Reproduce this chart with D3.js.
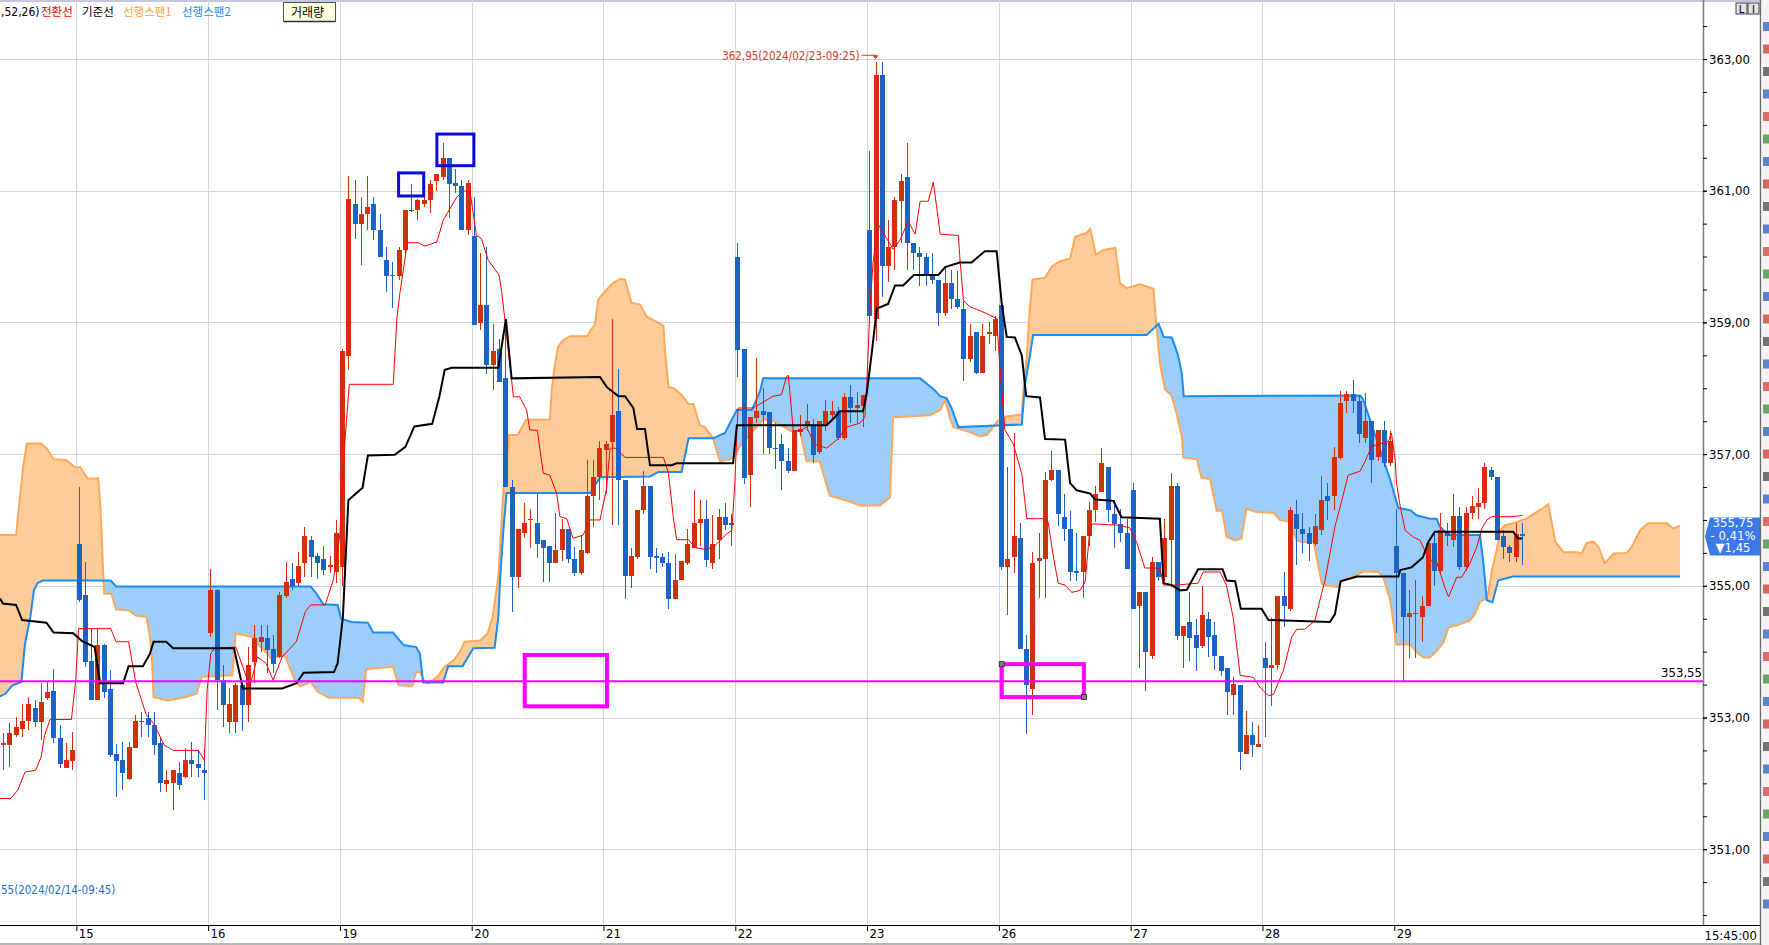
<!DOCTYPE html>
<html>
<head>
<meta charset="utf-8">
<script src="https://cdn.jsdelivr.net/npm/d3@7"></script>
<style>
  body { margin: 0; background: #fff; overflow: hidden; }
  svg { display: block; }
  .num { font-family: "Liberation Sans Narrow", "DejaVu Sans Condensed", "Arial Narrow", sans-serif; }
  .kr { font-family: "Noto Sans CJK KR", "Liberation Sans Narrow", sans-serif; }
</style>
</head>
<body>
<svg id="chart" width="1769" height="945"></svg>
<script>
// 20 minute bars, [open, high, low, close]
const candles = [
  // 14 (tail)
  [352.58,352.76,352.20,352.62],[352.58,352.91,352.25,352.76],[352.73,353.01,352.70,352.86],[352.83,353.21,352.70,352.95],
  [352.95,353.31,352.81,353.20],[353.15,353.26,352.86,352.93],[352.93,353.52,352.66,353.24],[353.29,353.54,353.26,353.39],
  [353.40,353.74,352.61,352.69],[352.69,352.88,352.23,352.29],[352.24,352.61,352.23,352.35],[352.34,352.78,352.20,352.50],
  // 15
  [355.64,356.50,354.75,354.78],[354.86,355.36,353.77,353.85],[353.86,354.35,353.26,353.27],[353.27,354.35,353.26,354.10],
  [354.10,354.12,353.29,353.39],[353.44,353.72,352.40,352.43],[352.45,352.60,351.80,352.34],[352.35,352.63,351.90,352.15],
  [352.07,352.63,352.05,352.55],[352.54,353.04,352.53,352.94],[352.93,353.09,352.71,352.95],[353.00,353.08,352.71,352.88],
  [352.89,353.08,352.43,352.58],[352.61,352.71,351.87,352.00],[351.99,352.20,351.87,352.05],[352.00,352.20,351.59,352.20],
  [352.16,352.32,351.90,351.97],[352.10,352.53,352.08,352.35],[352.35,352.63,352.10,352.29],[352.30,352.50,352.10,352.24],
  [352.20,352.50,351.74,352.15],
  // 16
  [354.29,355.25,354.23,354.94],[354.94,354.95,353.11,353.57],[353.57,353.80,352.86,353.19],[352.93,353.45,352.76,353.20],
  [352.93,353.52,352.76,353.50],[353.50,353.53,352.80,353.19],[353.19,354.07,352.93,353.80],[353.85,354.40,353.52,354.20],
  [354.15,354.40,354.00,354.22],[354.20,354.40,353.67,354.02],[354.04,354.25,353.67,353.82],[353.92,354.91,353.90,354.86],
  [354.84,355.36,354.81,355.06],[355.10,355.34,354.93,354.99],[355.04,355.51,355.00,355.30],[355.34,355.90,355.14,355.75],
  [355.70,355.75,355.13,355.43],[355.45,355.50,355.10,355.34],[355.40,355.60,355.17,355.24],[355.29,355.45,355.20,355.31],
  [355.21,356.00,355.05,355.80],
  // 19
  [355.29,358.60,355.00,358.56],[358.49,361.22,358.27,360.87],[360.80,361.16,360.27,360.50],[360.50,360.91,359.87,360.65],
  [360.65,361.22,360.40,360.76],[360.80,360.91,360.25,360.41],[360.41,360.65,359.99,359.99],[359.95,360.15,359.46,359.70],
  [359.72,359.92,359.22,359.70],[359.70,360.15,359.65,360.10],[360.10,360.71,360.02,360.71],[360.69,361.10,360.68,360.71],
  [360.71,360.87,360.56,360.86],[360.80,360.98,360.76,360.86],[360.86,361.16,360.66,361.10],[361.15,361.26,361.00,361.26],
  [361.21,361.72,361.16,361.50],[361.50,361.50,360.58,361.10],[361.12,361.33,360.96,361.07],[361.07,361.16,360.40,360.41],
  [360.41,361.16,360.32,361.12],
  // 20
  [360.31,360.90,358.96,358.96],[358.99,360.05,358.88,359.26],[359.26,360.14,358.22,358.35],[358.35,358.98,357.97,358.57],
  [358.60,358.75,358.10,358.10],[358.15,359.03,356.50,356.50],[356.50,356.60,354.60,355.14],[355.14,355.86,354.96,355.86],
  [355.80,356.25,355.72,355.95],[356.00,356.17,355.57,356.02],[355.95,356.39,355.42,355.63],[355.70,355.70,355.06,355.58],
  [355.60,355.60,355.06,355.35],[355.35,356.10,355.34,355.55],[355.55,356.02,355.37,355.86],[355.86,355.86,355.35,355.40],
  [355.40,355.59,355.15,355.20],[355.20,355.77,355.16,355.55],[355.50,356.91,355.49,356.36],[356.36,356.91,355.90,356.65],
  [356.65,357.20,356.30,357.10],
  // 21
  [357.06,357.20,356.40,357.15],[357.19,359.05,355.93,357.60],[357.65,358.29,355.93,356.60],[356.60,356.60,354.80,355.15],
  [355.15,355.58,354.97,355.45],[355.44,356.15,355.41,356.15],[356.15,356.74,356.09,356.51],[356.51,356.51,355.26,355.44],
  [355.45,355.58,355.20,355.42],[355.44,355.50,355.29,355.35],[355.35,355.52,354.65,354.80],[354.80,355.49,354.80,355.09],
  [355.09,355.38,355.09,355.38],[355.35,355.87,355.32,355.64],[355.58,356.45,355.58,355.95],[355.95,356.31,355.60,356.02],
  [356.02,356.31,355.29,355.39],[355.35,356.08,355.26,355.64],[355.70,356.16,355.41,356.05],[356.05,356.25,355.84,355.93],
  [355.96,356.09,355.61,355.93],
  // 22
  [359.99,360.21,358.17,358.58],[358.60,358.60,356.55,356.63],[356.69,357.56,356.20,357.56],[357.55,358.46,357.47,357.66],
  [357.66,358.00,357.00,357.60],[357.64,357.64,357.00,357.09],[357.10,357.47,356.77,357.07],[357.15,357.30,356.45,356.89],
  [356.89,357.09,356.71,356.74],[356.74,357.36,356.74,357.36],[357.34,357.60,357.27,357.38],[357.44,357.76,357.35,357.50],
  [357.44,357.53,356.86,356.98],[357.03,357.50,357.00,357.50],[357.44,357.82,357.35,357.66],[357.60,357.80,357.55,357.66],
  [357.66,357.72,357.21,357.24],[357.24,357.93,357.21,357.86],[357.86,358.05,357.47,357.70],[357.70,357.94,357.47,357.75],
  [357.73,357.90,357.41,357.90],
  // 23
  [360.41,361.61,359.05,359.09],[359.05,362.95,358.72,362.75],[362.75,362.95,359.38,359.85],[359.85,360.56,359.62,360.15],
  [360.15,360.90,359.80,360.86],[360.85,361.25,360.20,361.15],[361.21,361.72,359.80,360.20],[360.21,360.21,359.80,360.05],
  [360.05,360.14,359.56,359.99],[359.99,360.05,359.56,359.72],[359.72,360.05,359.59,359.65],[359.65,359.65,358.95,359.14],
  [359.14,359.82,359.10,359.60],[359.60,359.79,359.20,359.35],[359.36,359.78,359.20,359.24],[359.20,359.32,358.11,358.44],
  [358.44,358.98,358.40,358.79],[358.86,358.86,358.21,358.23],[358.23,358.98,358.23,358.80],[358.83,359.00,358.67,358.86],
  [358.79,359.10,358.57,359.05],
  // 26
  [359.26,359.26,355.24,355.29],[355.29,356.81,354.56,355.41],[355.43,357.32,355.20,355.75],[355.72,355.95,354.04,354.04],
  [354.04,354.25,352.75,353.49],[353.44,355.52,353.04,355.35],[355.38,355.80,354.82,355.42],[355.41,356.73,354.82,356.60],
  [356.60,357.05,356.59,356.76],[356.76,356.76,355.91,356.09],[356.05,356.40,355.68,355.86],[355.86,356.14,355.07,355.21],
  [355.22,355.80,355.07,355.20],[355.21,355.75,354.82,355.75],[355.75,356.28,355.60,356.15],[356.15,356.51,355.97,356.40],
  [356.42,357.10,356.42,356.86],[356.80,356.80,355.97,356.15],[356.09,356.30,355.57,355.94],[355.94,356.17,355.66,355.80],
  [355.80,356.02,355.25,355.25],
  // 27
  [356.45,356.56,354.65,354.65],[354.69,354.90,353.75,354.90],[354.90,354.90,353.41,354.00],[353.93,355.43,353.89,355.36],
  [355.36,355.36,355.07,355.14],[355.14,356.02,355.07,355.72],[355.70,356.71,354.98,356.52],[356.52,356.56,354.17,354.24],
  [354.24,354.39,353.75,354.39],[354.45,354.90,353.86,354.20],[354.25,354.50,353.70,354.06],[354.08,355.00,354.05,354.55],
  [354.50,354.60,353.92,354.22],[354.25,354.45,353.72,353.94],[353.94,353.94,353.63,353.70],[353.75,353.75,353.04,353.38],
  [353.34,353.61,353.04,353.51],[353.50,353.50,352.20,352.48],[352.44,353.10,352.44,352.73],[352.73,352.93,352.40,352.58],
  [352.55,352.89,352.55,352.59],
  // 28
  [353.90,354.14,352.71,353.75],[353.75,354.51,353.18,353.79],[353.79,354.85,353.72,354.85],[354.84,355.21,354.37,354.70],
  [354.65,356.20,354.62,356.15],[356.09,356.31,355.32,355.87],[355.87,356.10,355.50,355.79],[355.80,355.90,355.38,355.64],
  [355.64,356.09,355.60,355.91],[355.84,356.66,355.77,356.30],[356.36,356.56,356.00,356.29],[356.36,357.11,356.15,356.95],
  [356.94,357.96,356.91,357.77],[357.80,357.96,357.63,357.92],[357.92,358.12,357.63,357.80],[357.80,357.88,357.17,357.30],
  [357.24,357.93,357.17,357.51],[357.51,357.51,356.56,356.91],[356.95,357.37,356.90,357.37],[357.37,357.50,356.81,356.86],
  [356.86,357.35,356.82,357.20],
  // 29
  [355.60,356.16,354.29,355.19],[355.19,355.19,353.55,354.53],[354.53,354.93,353.91,354.58],[354.57,355.09,353.91,354.59],
  [354.53,354.85,354.14,354.70],[354.70,355.65,354.70,355.65],[355.65,355.79,355.00,355.23],[355.23,356.10,355.18,355.85],
  [355.80,355.95,355.60,355.75],[355.69,356.40,355.59,356.06],[356.06,356.20,355.24,355.28],[355.28,356.20,355.23,356.10],
  [356.10,356.36,356.02,356.21],[356.20,356.48,356.02,356.26],[356.25,356.86,356.16,356.81],[356.76,356.81,356.60,356.65],
  [356.65,356.65,355.69,355.69],[355.75,355.85,355.40,355.59],[355.59,355.62,355.36,355.50],[355.44,355.95,355.36,355.79],
  [355.79,355.95,355.31,355.75]
];

// first bar of each session and its axis label
const dayLabels = ["15", "16", "19", "20", "21", "22", "23", "26", "27", "28", "29"];
const dayStart = [12, 33, 54, 75, 96, 117, 138, 159, 180, 201, 222];

// indicator lines as [bar, price]
const tenkan = [
  [-0.51,351.77],[1.2,351.77],[2.34,351.9],[3.47,352.17],[5.18,352.2],[6.04,352.4],[6.6,352.73],[7.46,352.97],[10.87,352.97],
  [11.56,353.57],[12.0,354.35],[17.13,354.35],[17.99,354.15],[19.98,354.15],[21.1,353.54],[22.8,353.04],[23.96,352.91],
  [25.67,352.58],[27.1,352.5],[31.1,352.5],[32.05,352.35],[32.5,353.42],[33.07,353.97],[33.64,354.05],[37.05,354.07],
  [39.3,353.47],[40.5,353.92],[41.9,353.82],[43.0,353.57],[44.45,353.92],[46.7,354.15],[48.15,354.61],[49.0,354.71],
  [51.3,354.71],[52.6,355.09],[53.66,355.8],[54.46,357.21],[55.15,358.06],[62.16,358.06],[62.7,359.03],[63.2,359.44],
  [64.4,360.21],[66.1,360.21],[67.2,360.16],[69.1,360.22],[70.1,360.55],[72.25,360.9],[73.3,361.0],[74.4,360.98],
  [75.4,360.32],[76.2,360.27],[77.3,359.94],[79.0,359.72],[79.4,359.49],[79.95,359.03],[81.3,357.87],[82.3,357.87],
  [83.4,357.67],[83.9,357.37],[85.1,357.36],[86.05,356.71],[87.1,356.68],[88.2,356.4],[88.7,356.05],[89.8,356.02],
  [90.8,355.72],[92.4,355.77],[93.5,356.0],[95.09,356.0],[96.15,356.48],[96.7,357.09],[97.5,357.09],[99.1,356.95],
  [105.2,356.95],[106.0,356.71],[106.8,356.02],[107.3,355.7],[109.2,355.7],[110.2,355.58],[112.1,355.55],[113.4,355.61],
  [115.3,355.79],[116.1,355.84],[116.6,356.6],[116.9,357.35],[117.1,357.7],[119.5,357.7],[121.1,357.79],[122.7,357.88],
  [124.0,357.9],[124.8,358.17],[125.1,358.2],[125.9,357.35],[126.95,357.35],[128.0,357.41],[129.3,357.15],[131.2,357.09],
  [133.1,357.24],[134.4,357.41],[136.5,357.47],[137.3,357.56],[137.6,358.05],[138.1,359.21],[138.6,359.91],[139.4,360.49],
  [141.8,360.11],[142.9,360.25],[144.2,360.54],[145.3,360.34],[146.1,360.84],[147.4,360.84],[148.2,361.13],[149.3,360.34],
  [152.2,360.32],[152.4,360.02],[153.0,359.33],[154.0,359.24],[155.6,359.18],[157.0,359.12],[158.3,359.06],[158.8,358.33],
  [159.6,357.37],[160.96,357.15],[162.3,356.7],[163.1,356.02],[165.7,356.02],[166.5,355.97],[167.3,355.46],[168.1,355.04],
  [169.2,355.01],[170.25,354.9],[171.6,354.93],[172.4,355.07],[173.2,355.91],[173.7,355.94],[177.7,355.92],[179.5,355.88],
  [180.6,355.66],[181.9,355.27],[184.3,355.27],[184.9,355.01],[186.7,355.01],[190.4,355.04],[191.2,355.21],[193.9,355.21],
  [194.9,355.01],[196.0,354.51],[197.1,353.64],[199.2,353.61],[200.3,353.45],[201.6,353.33],[202.4,353.35],[204.0,353.72],
  [205.3,354.22],[206.1,354.34],[207.4,354.34],[209.0,354.47],[209.8,354.78],[210.6,355.08],[211.4,355.49],[212.2,355.9],
  [213.3,356.3],[214.3,356.68],[216.2,356.74],[217.0,356.89],[218.05,357.12],[220.7,357.19],[221.2,357.32],[221.8,356.91],
  [222.0,356.56],[222.6,356.2],[223.4,355.84],[224.7,355.74],[225.75,355.69],[226.5,355.54],[227.1,355.39],[228.4,355.36],
  [229.7,354.98],[230.3,354.83],[231.6,355.13],[232.4,355.13],[233.7,355.34],[234.8,355.59],[235.6,355.87],[236.4,356.0],
  [237.2,356.05],[240.6,356.05],[242.1,356.07]
];

const kijun = [
  [-0.51,354.81],[-0.05,354.73],[2.05,354.71],[3.02,354.48],[6.89,354.44],[8.03,354.29],[11.16,354.28],[12.58,354.16],
  [14.57,354.07],[15.43,353.52],[19.1,353.52],[19.98,353.78],[22.26,353.78],[23.39,353.97],[23.96,354.15],[25.96,354.15],
  [27.09,354.05],[36.77,354.05],[38.19,353.44],[44.45,353.44],[46.73,353.52],[47.87,353.68],[52.7,353.69],[53.28,353.82],
  [54.13,354.53],[55.0,356.3],[57.26,356.49],[58.11,356.98],[62.38,356.99],[64.09,357.11],[65.51,357.42],[68.36,357.46],
  [69.49,357.87],[70.35,358.28],[71.49,358.31],[78.89,358.31],[80.1,359.05],[81.0,358.15],[95.09,358.17],[96.15,358.02],
  [98.0,357.88],[99.07,357.88],[100.4,357.7],[101.0,357.38],[102.26,357.38],[103.06,356.83],[106.5,356.83],[107.3,356.86],
  [116.3,356.86],[116.9,357.44],[131.2,357.44],[132.5,357.56],[133.3,357.65],[137.0,357.65],[137.6,357.93],[138.4,358.54],
  [139.2,359.21],[141.0,359.28],[142.1,359.56],[143.4,359.56],[145.1,359.72],[149.0,359.72],[150.1,359.84],[152.4,359.91],
  [154.3,359.91],[156.4,360.08],[158.3,360.08],[159.1,359.29],[159.9,358.78],[161.2,358.77],[162.3,358.5],[163.0,357.88],
  [165.2,357.86],[166.0,357.23],[169.2,357.22],[170.0,356.56],[171.05,356.45],[173.2,356.4],[174.0,356.31],[176.9,356.29],
  [178.2,356.04],[184.3,356.02],[184.9,355.04],[186.2,355.01],[187.5,354.93],[188.6,354.94],[190.4,355.25],[194.3,355.25],
  [194.95,355.08],[196.3,355.07],[197.2,354.65],[200.5,354.65],[201.6,354.48],[211.4,354.45],[212.2,354.57],[213.1,355.07],
  [215.7,355.14],[222.3,355.14],[222.6,355.24],[224.4,355.28],[226.2,355.43],[227.1,355.67],[228.1,355.82],[240.6,355.82],
  [241.4,355.72],[242.0,355.72]
];

const spanA = [
  [-0.51,355.77],[2.05,355.77],[2.34,356.05],[3.19,356.81],[3.76,357.16],[6.04,357.16],[6.89,357.09],[8.03,356.92],
  [10.02,356.91],[11.44,356.8],[12.3,356.8],[13.43,356.63],[15.14,356.63],[15.54,356.1],[16.0,355.04],[16.1,354.88],
  [17.25,354.88],[17.99,354.64],[19.98,354.63],[21.1,354.55],[22.8,354.53],[23.3,354.28],[23.7,353.9],[23.96,353.31],
  [26.2,353.26],[29.1,353.31],[30.8,353.36],[31.65,353.62],[36.5,353.64],[37.05,354.28],[39.9,354.22],[40.5,354.12],
  [41.6,354.02],[42.7,353.9],[44.45,353.95],[45.0,353.92],[45.6,353.77],[46.45,353.57],[47.3,353.47],[49.0,353.54],
  [50.1,353.39],[51.85,353.3],[56.7,353.3],[57.3,353.24],[57.8,353.72],[58.4,353.74],[62.1,353.77],[63.0,353.49],
  [65.2,353.48],[65.8,353.69],[66.4,353.69],[67.2,353.54],[67.8,353.52],[69.2,353.62],[70.35,353.77],[71.8,353.87],
  [72.9,354.02],[73.5,354.15],[76.0,354.17],[77.2,354.28],[78.0,354.53],[78.9,355.14],[79.7,356.45],[80.6,357.29],
  [82.0,357.29],[83.3,357.52],[87.1,357.52],[87.4,357.97],[87.9,358.35],[88.4,358.63],[89.2,358.73],[90.3,358.79],
  [93.0,358.79],[94.3,358.98],[94.8,359.34],[95.6,359.44],[97.2,359.6],[98.3,359.66],[99.07,359.65],[100.1,359.3],
  [101.5,359.27],[102.5,359.09],[105.2,358.95],[105.4,358.63],[106.0,358.02],[107.0,357.99],[108.1,357.9],[109.2,357.76],
  [109.96,357.76],[111.0,357.44],[111.8,357.41],[113.1,357.24],[114.2,356.89],[115.8,356.92],[116.6,356.98],[117.4,357.12],
  [119.5,357.35],[121.1,357.53],[122.7,357.5],[124.0,357.44],[125.4,357.35],[126.95,357.35],[128.0,356.89],[130.1,356.89],
  [131.7,356.37],[134.9,356.28],[136.5,356.22],[139.7,356.22],[141.3,356.34],[141.8,357.56],[147.7,357.59],[149.3,357.67],
  [150.1,357.82],[150.9,357.53],[151.4,357.41],[153.5,357.35],[155.6,357.27],[156.7,357.29],[157.8,357.41],[158.3,357.49],
  [159.9,357.57],[162.3,357.6],[162.55,357.94],[163.1,358.5],[163.6,359.23],[164.0,359.65],[166.0,359.68],[167.1,359.85],
  [168.4,359.93],[170.0,359.97],[170.8,360.3],[172.6,360.36],[173.2,360.42],[174.1,360.03],[175.3,360.1],[177.2,360.13],
  [177.95,359.6],[179.0,359.52],[181.1,359.58],[183.3,359.51],[183.7,359.0],[184.3,358.39],[185.1,357.99],[186.2,357.88],
  [187.0,357.6],[187.8,357.26],[188.04,356.95],[190.2,356.92],[190.96,356.64],[192.3,356.62],[193.35,356.14],[194.2,356.14],
  [194.95,355.74],[196.3,355.69],[197.3,355.72],[198.1,356.17],[199.7,356.12],[202.4,356.11],[203.4,356.0],[205.0,355.97],
  [206.1,355.69],[207.2,355.66],[208.8,355.67],[210.1,355.03],[212.5,354.98],[213.3,355.08],[215.7,355.16],[216.7,355.22],
  [219.1,355.21],[219.9,355.13],[221.0,354.78],[222.0,354.11],[224.2,354.11],[225.2,353.99],[226.3,353.91],[227.3,353.91],
  [228.4,354.01],[229.5,354.14],[230.3,354.37],[231.3,354.39],[233.7,354.47],[234.5,354.57],[235.3,354.75],[236.1,354.8],
  [236.6,354.88],[237.2,355.23],[238.0,355.56],[238.5,355.84],[239.3,355.92],[240.6,355.95],[242.7,356.02],[244.3,356.12],
  [245.7,356.2],[246.2,356.24],[247.3,355.67],[248.6,355.51],[250.7,355.51],[251.5,355.49],[252.3,355.65],[253.4,355.67],
  [254.2,355.59],[255.2,355.34],[256.6,355.49],[258.7,355.5],[259.5,355.59],[260.8,355.84],[262.1,355.95],[265.05,355.95],
  [266.1,355.87],[267.2,355.91]
];

const spanB = [
  [-0.51,353.32],[0.34,353.36],[1.48,353.49],[2.9,353.54],[3.47,354.12],[4.33,354.53],[4.9,354.93],[5.47,355.04],
  [6.32,355.08],[17.13,355.08],[17.99,354.99],[49.0,354.99],[49.9,354.88],[51.0,354.72],[53.3,354.71],[53.84,354.5],
  [55.55,354.45],[58.1,354.44],[58.97,354.29],[62.1,354.29],[63.8,354.1],[65.8,354.07],[66.4,353.97],[66.9,353.53],
  [70.1,353.53],[70.9,353.78],[73.2,353.78],[74.9,354.05],[78.3,354.06],[78.9,354.53],[79.2,355.14],[79.7,355.85],
  [80.2,356.41],[93.5,356.41],[95.1,356.65],[103.06,356.66],[104.4,356.73],[108.1,356.73],[109.2,357.24],[113.1,357.24],
  [115.0,357.32],[115.8,357.47],[116.9,357.67],[119.3,357.67],[120.6,357.96],[121.1,358.15],[146.1,358.15],[148.2,357.99],
  [149.3,357.88],[150.3,357.85],[151.1,357.7],[152.2,357.41],[157.24,357.43],[162.3,357.45],[162.8,358.05],[163.6,358.5],
  [164.1,358.81],[182.2,358.81],[184.1,358.98],[184.9,358.78],[186.2,358.77],[187.2,358.5],[187.8,358.22],[188.1,357.88],
  [216.2,357.89],[216.7,357.83],[221.0,356.61],[222.3,356.18],[224.2,356.15],[225.2,356.07],[227.3,356.02],[228.4,356.02],
  [228.9,355.9],[230.3,355.77],[235.3,355.77],[235.8,355.39],[236.4,354.78],[237.3,354.75],[238.2,355.08],[240.1,355.13],
  [240.6,355.14],[267.2,355.14]
];

const priceTicks = [351, 353, 355, 357, 359, 361, 363];
const levelLine = 353.55;
const lastPrice = 355.75;
const lastChange = ["- 0,41%", "\u25BC1,45"];
const highMark = { bar: 139, price: 362.95, label: "362,95(2024/02/23-09:25)" };
// only the parts that are visible inside the window
const lowLabel = "55(2024/02/14-09:45)";
const legendHead = ",52,26)";

// drawn boxes as [barFrom, barTo, priceTop, priceBottom]
const magentaBoxes = [[83.1, 96.2, 353.95, 353.17], [159.1, 172.2, 353.81, 353.31]];
const blueBoxes = [[63.0, 67.0, 361.27, 360.92], [69.1, 75.0, 361.86, 361.38]];

const legendItems = [
  { text: "전환선", color: "#ee0000", x: 41 },
  { text: "기준선", color: "#000000", x: 82 },
  { text: "선행스팬1", color: "#ffa040", x: 123 },
  { text: "선행스팬2", color: "#1e88f0", x: 182 }
];

class IchimokuChart {
  constructor(_config) {
    this.config = {
      parentElement: _config.parentElement,
      plotRight: 1703,
      plotBottom: 925,
      panelRight: 1760
    };
    this.initVis();
  }

  initVis() {
    let vis = this;
    vis.svg = d3.select(vis.config.parentElement);

    // one bar = 6.276px, bar 0 sits at x 3.2
    vis.x = d3.scaleLinear().domain([0, 100]).range([3.2, 630.8]);
    vis.y = d3.scaleLinear().domain([351, 363]).range([849.2, 59]);

    const defs = vis.svg.append("defs");
    defs.append("clipPath").attr("id", "plot-clip")
      .append("rect")
      .attr("width", vis.config.plotRight)
      .attr("height", vis.config.plotBottom);

    // regions above each span, used to split the cloud into two colours
    const above = d3.area().x((d) => vis.x(d[0])).y0(0).y1((d) => vis.y(d[1]));
    defs.append("clipPath").attr("id", "above-a").append("path").attr("d", above(spanA));
    defs.append("clipPath").attr("id", "above-b").append("path").attr("d", above(spanB));

    vis.plot = vis.svg.append("g").attr("clip-path", "url(#plot-clip)");
    vis.renderVis();
  }

  renderVis() {
    let vis = this;
    const x = vis.x, y = vis.y;
    const pr = vis.config.plotRight, pb = vis.config.plotBottom;
    const fmt = (v) => v.toFixed(2).replace(".", ",");

    // top strip
    vis.svg.insert("rect", ":first-child").attr("width", 1769).attr("height", 2).attr("fill", "#c5c5dd");

    // grid
    vis.plot.append("g").selectAll("line").data(priceTicks).join("line")
      .attr("x1", 0).attr("x2", pr)
      .attr("y1", (d) => Math.round(y(d)) + 0.5).attr("y2", (d) => Math.round(y(d)) + 0.5)
      .attr("stroke", "#d6d6d6");
    vis.plot.append("g").selectAll("line").data(dayStart).join("line")
      .attr("x1", (d) => Math.round(x(d - 0.35)) + 0.5).attr("x2", (d) => Math.round(x(d - 0.35)) + 0.5)
      .attr("y1", 0).attr("y2", pb)
      .attr("stroke", "#d6d6d6");

    // cloud
    const below = d3.area().x((d) => x(d[0])).y0(pb).y1((d) => y(d[1]));
    vis.plot.append("g").attr("clip-path", "url(#above-b)")
      .append("path").attr("d", below(spanA)).attr("fill", "#fecc99");
    vis.plot.append("g").attr("clip-path", "url(#above-a)")
      .append("path").attr("d", below(spanB)).attr("fill", "#9dcdfb");

    const line = d3.line().x((d) => x(d[0])).y((d) => y(d[1]));
    vis.plot.append("path").attr("d", line(spanA)).attr("fill", "none")
      .attr("stroke", "#ffa85a").attr("stroke-width", 2);
    vis.plot.append("path").attr("d", line(spanB)).attr("fill", "none")
      .attr("stroke", "#1a8cf2").attr("stroke-width", 2);

    // candles, red up / blue down
    const up = "#d42f0d", down = "#1b64c3";
    const bars = vis.plot.append("g").attr("shape-rendering", "crispEdges")
      .selectAll("g").data(candles).join("g");
    bars.append("line")
      .attr("x1", (d, i) => Math.round(x(i)) + 0.5).attr("x2", (d, i) => Math.round(x(i)) + 0.5)
      .attr("y1", (d) => y(d[1])).attr("y2", (d) => y(d[2]))
      .attr("stroke", (d) => (d[3] >= d[0] ? up : down));
    bars.append("rect")
      .attr("x", (d, i) => Math.round(x(i)) - 2)
      .attr("width", 5)
      .attr("y", (d) => y(Math.max(d[0], d[3])))
      .attr("height", (d) => Math.max(1.5, Math.abs(y(d[0]) - y(d[3]))))
      .attr("fill", (d) => (d[3] >= d[0] ? up : down));

    vis.plot.append("path").attr("d", line(tenkan)).attr("fill", "none")
      .attr("stroke", "#ff0000").attr("stroke-width", 1);
    vis.plot.append("path").attr("d", line(kijun)).attr("fill", "none")
      .attr("stroke", "#000").attr("stroke-width", 2);

    // level line and drawn boxes
    vis.plot.append("line")
      .attr("x1", 0).attr("x2", pr).attr("y1", y(levelLine)).attr("y2", y(levelLine))
      .attr("stroke", "#ff00ff").attr("stroke-width", 2);
    vis.plot.append("text").attr("class", "num")
      .attr("x", pr - 1).attr("y", y(levelLine) - 4)
      .attr("text-anchor", "end").attr("font-size", 13).attr("fill", "#000")
      .text(fmt(levelLine));

    const box = (g, data, color, w) =>
      g.selectAll(null).data(data).join("rect")
        .attr("x", (d) => x(d[0])).attr("width", (d) => x(d[1]) - x(d[0]))
        .attr("y", (d) => y(d[2])).attr("height", (d) => y(d[3]) - y(d[2]))
        .attr("fill", "none").attr("stroke", color).attr("stroke-width", w);
    box(vis.plot.append("g"), magentaBoxes, "#ff00ff", 4);
    box(vis.plot.append("g"), blueBoxes, "#0a0ae0", 3);

    // selection handles on the second box
    const sel = magentaBoxes[1];
    vis.plot.append("g").selectAll("rect")
      .data([[sel[0], sel[2]], [sel[1], sel[3]]]).join("rect")
      .attr("x", (d) => x(d[0]) - 2.5).attr("y", (d) => y(d[1]) - 2.5)
      .attr("width", 5).attr("height", 5)
      .attr("fill", "#808080").attr("stroke", "#202020").attr("stroke-width", 0.8);

    // high marker
    const hx = x(highMark.bar), hy = y(highMark.price) - 7;
    vis.plot.append("text").attr("class", "num")
      .attr("x", hx - 16).attr("y", hy + 4.5)
      .attr("text-anchor", "end").attr("font-size", 11.5).attr("fill", "#d83c1e")
      .text(highMark.label);
    vis.plot.append("line").attr("x1", hx - 14).attr("x2", hx).attr("y1", hy).attr("y2", hy)
      .attr("stroke", "#d83c1e");
    vis.plot.append("path")
      .attr("d", `M${hx - 3},${hy}L${hx + 3},${hy}L${hx},${hy + 4}Z`)
      .attr("fill", "#d83c1e");

    vis.plot.append("text").attr("class", "num")
      .attr("x", 1).attr("y", 894)
      .attr("font-size", 11.5).attr("fill", "#1e6fd0")
      .text(lowLabel);

    // legend
    vis.svg.append("text").attr("class", "num")
      .attr("x", 1).attr("y", 16)
      .attr("font-size", 12).attr("fill", "#000")
      .text(legendHead);
    vis.svg.append("g").selectAll("text").data(legendItems).join("text")
      .attr("class", "kr")
      .attr("x", (d) => d.x).attr("y", 16)
      .attr("font-size", 11.5).attr("fill", (d) => d.color)
      .text((d) => d.text);
    const btn = vis.svg.append("g").attr("transform", "translate(283,2)");
    btn.append("rect").attr("x", 0.5).attr("y", 0.5).attr("width", 52).attr("height", 19)
      .attr("fill", "#ffffe1").attr("stroke", "#505050");
    btn.append("line").attr("x1", 1).attr("x2", 52).attr("y1", 19.5).attr("y2", 19.5).attr("stroke", "#303030").attr("stroke-width", 1.5);
    btn.append("text").attr("class", "kr").attr("x", 8).attr("y", 14.5)
      .attr("font-size", 12).attr("fill", "#000").text("거래량");

    // right price axis
    vis.svg.append("line")
      .attr("x1", pr + 0.5).attr("x2", pr + 0.5).attr("y1", 0).attr("y2", pb)
      .attr("stroke", "#7a7a7a").attr("stroke-width", 1.5);
    const minor = vis.svg.append("g").attr("transform", `translate(${pr},0)`)
      .call(d3.axisRight(y).tickValues(d3.range(350, 364, 0.5)).tickSize(4).tickFormat(""));
    minor.select(".domain").remove();
    const major = vis.svg.append("g").attr("transform", `translate(${pr},0)`)
      .call(d3.axisRight(y).tickValues(priceTicks).tickSize(4).tickPadding(2).tickFormat(fmt));
    major.select(".domain").remove();
    major.selectAll("text").attr("class", "num").attr("font-size", 13).attr("fill", "#000");

    // last price tag
    const ty = y(lastPrice);
    vis.svg.append("path")
      .attr("d", `M${pr + 2},${ty}L${pr + 7},${ty - 19}L${vis.config.panelRight},${ty - 19}L${vis.config.panelRight},${ty + 19}L${pr + 7},${ty + 19}Z`)
      .attr("fill", "#3b79e8");
    vis.svg.append("g").selectAll("text")
      .data([fmt(lastPrice)].concat(lastChange)).join("text")
      .attr("class", "num")
      .attr("x", 1733).attr("y", (d, i) => ty - 9 + i * 12.5)
      .attr("text-anchor", "middle").attr("font-size", 13).attr("fill", "#fff")
      .text((d) => d);

    // bottom date axis
    const xAxis = vis.svg.append("g").attr("transform", `translate(0,${pb})`)
      .call(d3.axisBottom(x).tickValues(dayStart.map((d) => d - 0.35))
        .tickFormat((d, i) => dayLabels[i]).tickSize(6));
    xAxis.select(".domain").remove();
    xAxis.selectAll("text").attr("class", "num").attr("font-size", 13)
      .attr("text-anchor", "start").attr("x", 2).attr("y", 4).attr("fill", "#000");
    vis.svg.append("line").attr("x1", 0).attr("x2", vis.config.panelRight)
      .attr("y1", pb + 0.5).attr("y2", pb + 0.5).attr("stroke", "#000");
    vis.svg.append("text").attr("class", "num")
      .attr("x", 1757).attr("y", 940).attr("text-anchor", "end")
      .attr("font-size", 13).attr("fill", "#000").text("15:45:00");
    vis.svg.append("line").attr("x1", 0).attr("x2", 1769).attr("y1", 944).attr("y2", 944)
      .attr("stroke", "#b8b8b8").attr("stroke-width", 2);

    // right panel edge, corner buttons and toolbar strip
    vis.svg.append("line").attr("x1", 1760.5).attr("x2", 1760.5).attr("y1", 0).attr("y2", 945)
      .attr("stroke", "#6e6e6e").attr("stroke-width", 1.5);
    vis.svg.append("rect").attr("x", 1761.5).attr("y", 0).attr("width", 8).attr("height", 945).attr("fill", "#f4f4f4");
    const corner = vis.svg.append("g").selectAll("g").data(["L", "I"]).join("g")
      .attr("transform", (d, i) => `translate(${1736 + i * 12},3)`);
    corner.append("rect").attr("width", 11).attr("height", 11)
      .attr("fill", "#e4e4e4").attr("stroke", "#404040");
    corner.append("text").attr("class", "num").attr("x", 5.5).attr("y", 9.5)
      .attr("text-anchor", "middle").attr("font-size", 11).attr("fill", "#000").text((d) => d);
    const iconColors = ["#2a5fc0", "#c83a2a", "#4a4a4a", "#2a5fc0", "#d04040", "#3b8a3b"];
    vis.svg.append("g").selectAll("rect").data(d3.range(40)).join("rect")
      .attr("x", 1763).attr("y", (d) => 22 + d * 22.5)
      .attr("width", 6).attr("height", 9)
      .attr("fill", (d) => iconColors[d % iconColors.length]).attr("opacity", 0.75);
  }
}

new IchimokuChart({ parentElement: "#chart" });
</script>
</body>
</html>
